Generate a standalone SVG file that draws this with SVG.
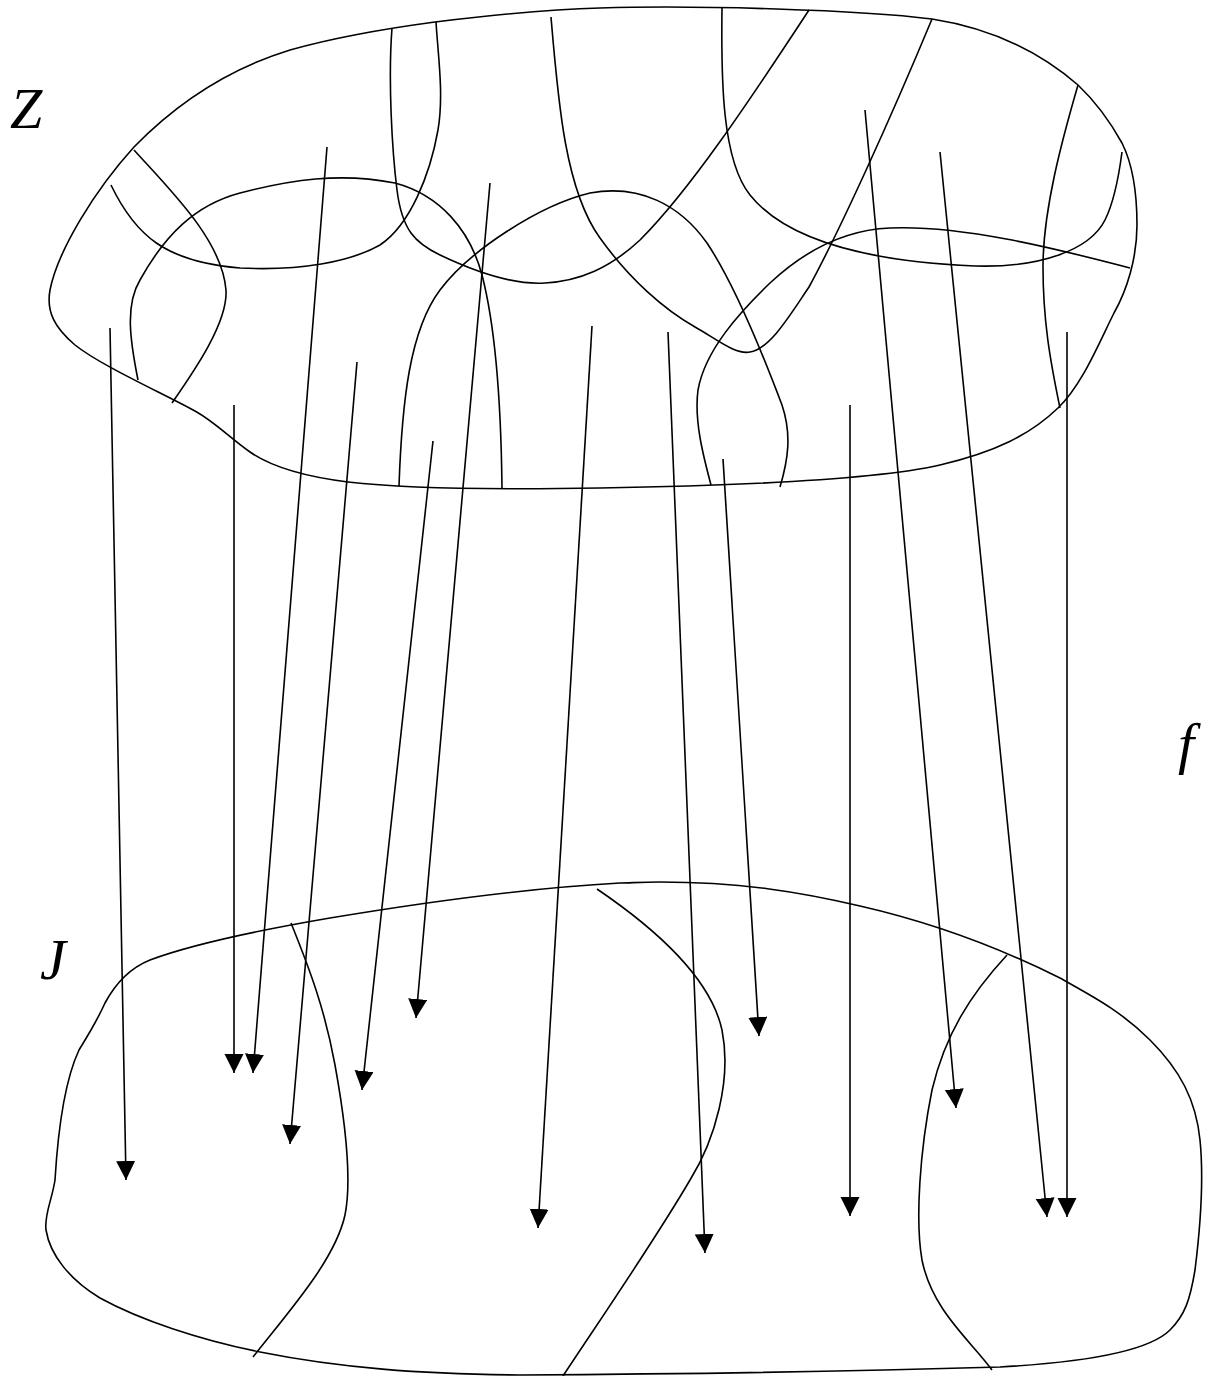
<svg xmlns="http://www.w3.org/2000/svg" width="1215" height="1376" viewBox="0 0 1215 1376">
<style>
.c{fill:none;stroke:#000;stroke-width:1.6;stroke-linecap:butt}
.a{fill:none;stroke:#000;stroke-width:1.6;marker-end:url(#ah)}
.t{font-family:"Liberation Serif","Times New Roman",serif;font-style:italic;font-size:58px;fill:#000}
</style>
<defs>
<marker id="ah" markerUnits="userSpaceOnUse" markerWidth="22" markerHeight="22" refX="19" refY="9.5" orient="auto" viewBox="0 0 22 22">
<path d="M0,0 L19,9.5 L0,19 Z" fill="#000"/>
</marker>
</defs>
<rect width="1215" height="1376" fill="#fff"/>
<g id="node-Z">
<path class="c" d="M 600,8 C 700,5 860,10 932,19 C 990,28 1040,52 1078,85 C 1098,104 1112,125 1122,143 C 1133,165 1137,195 1137,225 C 1137,258 1127,290 1114,313 C 1098,345 1082,385 1058,408 C 1030,435 995,452 940,465 C 870,481 720,486 600,488 C 480,490 400,488 348,482 C 300,476 270,466 250,452 C 230,438 215,422 195,411 C 160,392 100,365 75,345 C 55,328 46,312 50,290 C 58,250 95,190 134,147 C 175,105 225,70 290,50 C 340,36 390,28 435,22 C 500,14 560,9 600,8 Z"/>
<path class="c" d="M 134,150 C 170,190 222,240 226,290 C 228,322 195,370 172,403"/>
<path class="c" d="M 111,185 C 135,235 165,262 240,268 C 300,271 350,262 380,245 C 410,225 430,175 438,130 C 444,95 438,55 436,22"/>
<path class="c" d="M 392,28 C 388,80 392,150 397,190 C 402,230 415,243 440,255 C 480,274 515,285 545,283 C 580,281 610,268 640,240 C 690,190 750,100 809,10"/>
<path class="c" d="M 138,380 C 130,340 125,305 140,280 C 165,235 195,205 240,193 C 290,180 340,172 395,183 C 440,195 470,230 482,275 C 495,325 501,400 502,488"/>
<path class="c" d="M 399,486 C 402,400 410,330 440,290 C 470,250 540,205 590,193 C 640,184 680,205 707,243 C 735,285 765,360 782,405 C 792,435 788,460 780,487"/>
<path class="c" d="M 551,17 C 558,100 565,190 600,238 C 630,280 665,310 695,327 C 715,338 735,355 750,352 C 770,349 790,315 809,287 C 840,230 890,120 932,19"/>
<path class="c" d="M 722,7 C 721,80 722,160 750,195 C 790,245 880,262 975,266 C 1040,268 1090,250 1105,220 C 1115,200 1119,175 1122,152"/>
<path class="c" d="M 1130,268 C 1050,247 960,225 890,228 C 840,230 800,255 770,283 C 740,312 705,350 698,390 C 694,420 703,455 711,485"/>
<path class="c" d="M 1078,85 C 1062,140 1043,210 1043,267 C 1043,320 1050,360 1060,408"/>
</g>
<g id="node-J">
<path class="c" d="M 620,883 C 530,888 420,903 330,918 C 260,930 190,945 150,960 C 125,970 112,990 105,1003 C 95,1025 85,1040 79,1050 C 65,1080 58,1130 55,1180 C 52,1200 44,1215 46,1230 C 50,1255 70,1280 100,1298 C 140,1320 200,1340 260,1352 C 340,1368 420,1374 520,1375 C 700,1374 900,1370 1000,1367 C 1090,1362 1150,1350 1170,1330 C 1185,1315 1190,1300 1195,1270 C 1200,1230 1204,1180 1200,1140 C 1196,1100 1180,1070 1150,1040 C 1120,1010 1090,995 1060,978 C 1000,948 930,922 860,906 C 800,892 740,882 660,882 C 640,882 630,883 620,883 Z"/>
<path class="c" d="M 291,923 C 310,970 325,1010 335,1065 C 345,1120 352,1180 345,1215 C 335,1260 290,1310 253,1357"/>
<path class="c" d="M 597,889 C 650,925 710,975 722,1030 C 732,1080 715,1140 690,1180 C 655,1240 600,1320 563,1376"/>
<path class="c" d="M 1007,955 C 970,995 945,1035 932,1090 C 920,1150 915,1220 922,1260 C 932,1310 970,1340 992,1370"/>
</g>
<g id="labels">
<text class="t" x="10" y="128">Z</text>
<text class="t" x="40" y="979">J</text>
<text class="t" x="1178" y="763">f</text>
</g>
<g id="connectors">
<line class="a" x1="110" y1="328" x2="126" y2="1180"/>
<line class="a" x1="234" y1="405" x2="234" y2="1073"/>
<line class="a" x1="327" y1="147" x2="253" y2="1073"/>
<line class="a" x1="357" y1="362" x2="290" y2="1144"/>
<line class="a" x1="433" y1="441" x2="362" y2="1090"/>
<line class="a" x1="490" y1="183" x2="416" y2="1018"/>
<line class="a" x1="592" y1="326" x2="538" y2="1228"/>
<line class="a" x1="668" y1="332" x2="705" y2="1253"/>
<line class="a" x1="723" y1="459" x2="759" y2="1036"/>
<line class="a" x1="850" y1="405" x2="850" y2="1216"/>
<line class="a" x1="865" y1="110" x2="956" y2="1108"/>
<line class="a" x1="940" y1="152" x2="1047" y2="1217"/>
<line class="a" x1="1067" y1="332" x2="1067" y2="1217"/>
</g>
</svg>
